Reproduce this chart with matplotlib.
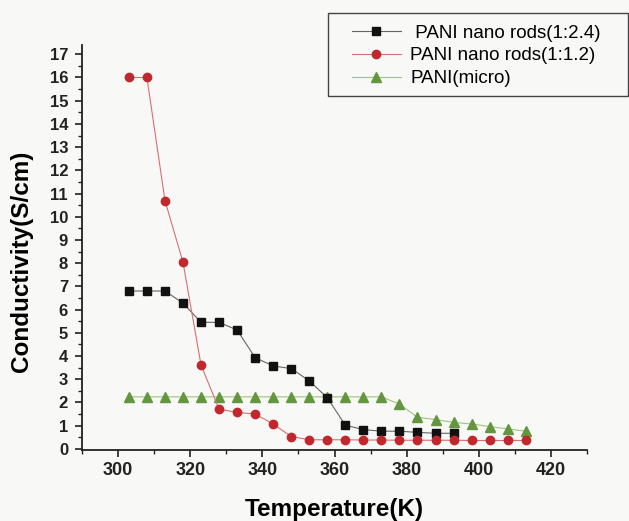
#!/usr/bin/env python

import numpy as np
import matplotlib
matplotlib.use("Agg")
import matplotlib.pyplot as plt
from matplotlib.ticker import MultipleLocator
from matplotlib.patches import Rectangle

plt.rcParams['font.family'] = ['Liberation Sans', 'DejaVu Sans']

# temperature points (K)
temp_24 = [303, 308, 313, 318, 323, 328, 333, 338, 343, 348, 353, 358, 363,
           368, 373, 378, 383, 388, 393]
temp_12 = [303, 308, 313, 318, 323, 328, 333, 338, 343, 348, 353, 358, 363,
           368, 373, 378, 383, 388, 393, 398, 403, 408, 413]
temp_micro = temp_12

# conductivity (S/cm)
cond_24 = [6.8, 6.8, 6.8, 6.28, 5.45, 5.45, 5.12, 3.93, 3.57, 3.46, 2.93, 2.2,
           1.02, 0.83, 0.76, 0.76, 0.71, 0.67, 0.67]
cond_12 = [16.0, 16.0, 10.7, 8.04, 3.61, 1.71, 1.57, 1.5, 1.07, 0.53, 0.39, 0.39,
           0.39, 0.38, 0.38, 0.37, 0.37, 0.37, 0.37, 0.36, 0.36, 0.36, 0.36]
cond_micro = [2.24, 2.24, 2.24, 2.24, 2.24, 2.24, 2.24, 2.24, 2.24, 2.24, 2.24,
              2.24, 2.24, 2.24, 2.24, 1.93, 1.36, 1.26, 1.14, 1.07, 0.96, 0.86, 0.76]

labels = [" PANI nano rods(1:2.4)", "PANI nano rods(1:1.2)", "PANI(micro)"]

W, H = 629, 521
bg = '#f8f8f6'
fig = plt.figure(figsize=(W/100, H/100), dpi=100)
fig.patch.set_facecolor(bg)
ax = fig.add_axes([82/W, 1-450/H, 505/W, 405/H])
ax.set_facecolor(bg)

ax.plot(temp_24, cond_24, color='#666666', lw=0.8, marker='s', ms=5.5,
        mfc='#111111', mec='#111111', label=labels[0], zorder=3)
ax.plot(temp_12, cond_12, color='#d87070', lw=0.8, marker='o', ms=6,
        mfc='#c0282d', mec='#c0282d', label=labels[1], zorder=4)
ax.plot(temp_micro, cond_micro, color='#9cc67a', lw=0.8, marker='^', ms=6.5,
        mfc='#64953f', mec='#64953f', label=labels[2], zorder=2)

ax.set_xlim(290, 430)
ax.set_ylim(-0.05, 17.4)
ax.xaxis.set_major_locator(MultipleLocator(20))
ax.xaxis.set_minor_locator(MultipleLocator(10))
ax.yaxis.set_major_locator(MultipleLocator(1))
ax.yaxis.set_minor_locator(MultipleLocator(0.5))

for side in ['top', 'right']:
    ax.spines[side].set_visible(False)
for side in ['left', 'bottom']:
    ax.spines[side].set_linewidth(1.3)
    ax.spines[side].set_color('#222222')

ax.tick_params(which='major', direction='out', length=5, width=1.2,
               colors='#222222')
ax.tick_params(which='minor', direction='out', length=3, width=1.0,
               colors='#222222')
ax.tick_params(axis='x', labelsize=13)
ax.tick_params(axis='y', labelsize=12, pad=5)
for lab in ax.get_xticklabels() + ax.get_yticklabels():
    lab.set_fontweight('bold')

ax.set_xlabel("Temperature(K)", fontsize=17.5, fontweight='bold', labelpad=14)
ax.set_ylabel("Conductivity(S/cm)", fontsize=17.5, fontweight='bold')
ax.yaxis.set_label_coords(-0.098, 0.465)

# legend box drawn separately (Origin style, wide padding)
frame = Rectangle((328/W, 1-96/H), 300/W, 83/H, transform=fig.transFigure,
                  facecolor=bg, edgecolor='#444444', lw=1.0, zorder=5)
fig.add_artist(frame)
leg = fig.legend(loc='upper left', bbox_to_anchor=(352/W, 1-24.5/H), fontsize=13.5,
                 frameon=False, handlelength=2.6, handletextpad=0.5,
                 borderpad=0, borderaxespad=0, labelspacing=0.3)
leg.set_zorder(6)

fig.savefig("out.png", dpi=100, facecolor=fig.get_facecolor())
